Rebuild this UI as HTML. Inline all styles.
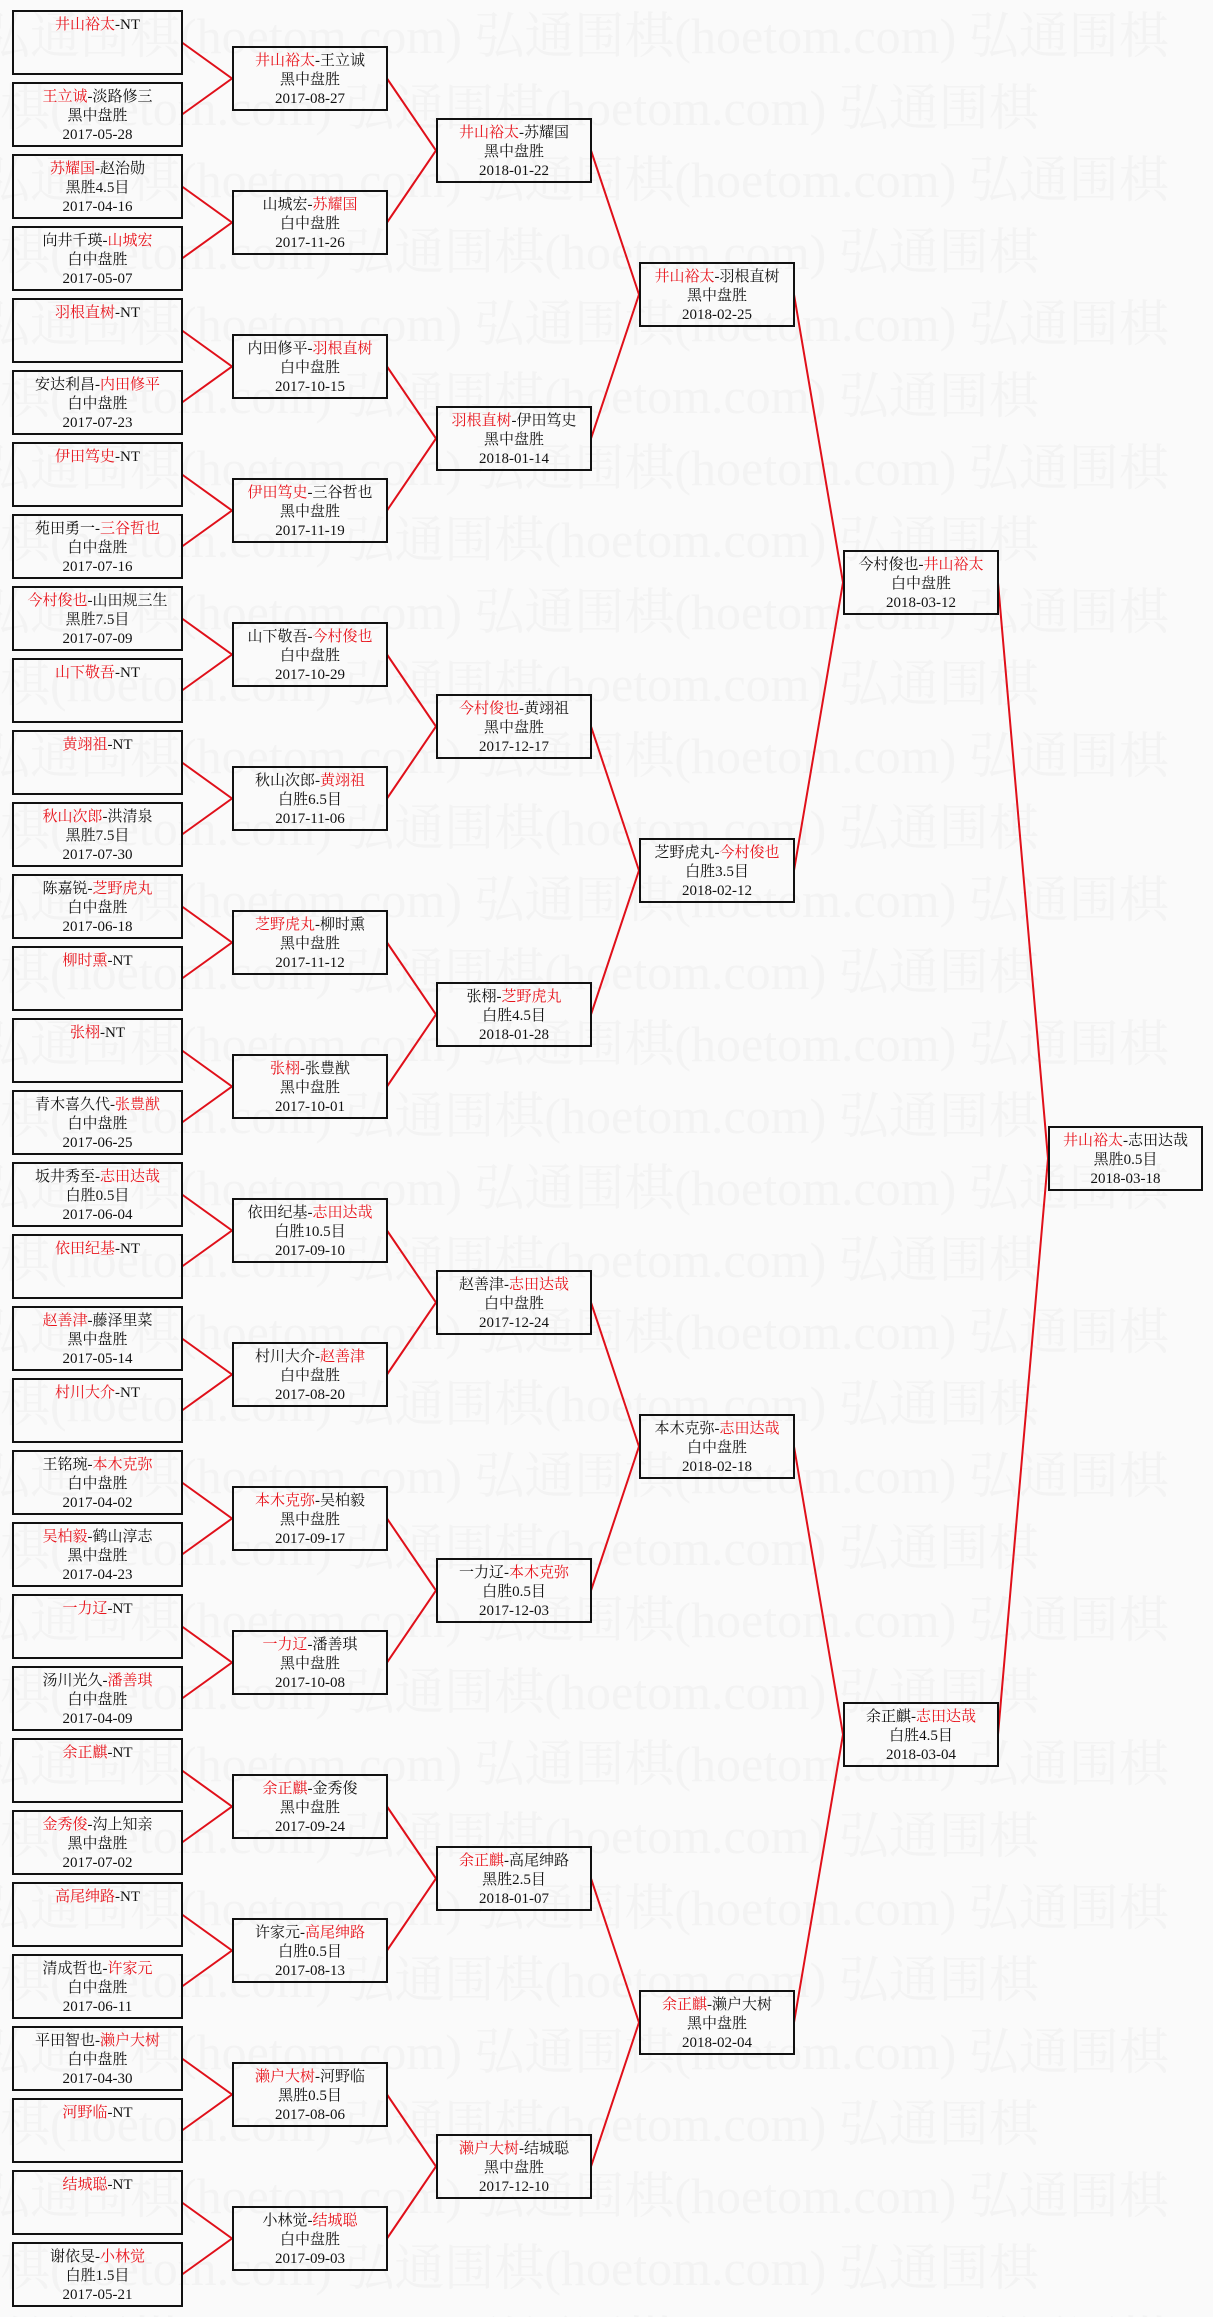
<!DOCTYPE html>
<html><head><meta charset="utf-8"><style>
html,body{margin:0;padding:0}
body{width:1213px;height:2317px;position:relative;overflow:hidden;background:#fafafa;font-family:"Liberation Serif","Noto Serif CJK SC",serif;}
.wm{position:absolute;left:0;top:0;width:1213px;height:2317px;overflow:hidden;color:#f3f3f3;font-size:50px;line-height:72px;white-space:nowrap;font-family:"Liberation Serif","Noto Serif CJK SC",serif}
.wm div{height:72px}
svg{position:absolute;left:0;top:0}
.b{position:absolute;box-sizing:border-box;height:65px;border:2px solid #111;text-align:center;font-size:15px;line-height:19px;padding-top:4px;color:#111;white-space:nowrap;overflow:hidden}
.c1{left:12px;width:171px}.c2{left:232px;width:156px}.c3{left:436px;width:156px}
.c4{left:639px;width:156px}.c5{left:843px;width:156px}.c6{left:1048px;width:155px}
.r{color:#e8141c}
</style></head><body>
<div class="wm">
<div style="margin-left:-20px">弘通围棋(hoetom.com) 弘通围棋(hoetom.com) 弘通围棋</div>
<div style="margin-left:-150px">弘通围棋(hoetom.com) 弘通围棋(hoetom.com) 弘通围棋</div>
<div style="margin-left:-20px">弘通围棋(hoetom.com) 弘通围棋(hoetom.com) 弘通围棋</div>
<div style="margin-left:-150px">弘通围棋(hoetom.com) 弘通围棋(hoetom.com) 弘通围棋</div>
<div style="margin-left:-20px">弘通围棋(hoetom.com) 弘通围棋(hoetom.com) 弘通围棋</div>
<div style="margin-left:-150px">弘通围棋(hoetom.com) 弘通围棋(hoetom.com) 弘通围棋</div>
<div style="margin-left:-20px">弘通围棋(hoetom.com) 弘通围棋(hoetom.com) 弘通围棋</div>
<div style="margin-left:-150px">弘通围棋(hoetom.com) 弘通围棋(hoetom.com) 弘通围棋</div>
<div style="margin-left:-20px">弘通围棋(hoetom.com) 弘通围棋(hoetom.com) 弘通围棋</div>
<div style="margin-left:-150px">弘通围棋(hoetom.com) 弘通围棋(hoetom.com) 弘通围棋</div>
<div style="margin-left:-20px">弘通围棋(hoetom.com) 弘通围棋(hoetom.com) 弘通围棋</div>
<div style="margin-left:-150px">弘通围棋(hoetom.com) 弘通围棋(hoetom.com) 弘通围棋</div>
<div style="margin-left:-20px">弘通围棋(hoetom.com) 弘通围棋(hoetom.com) 弘通围棋</div>
<div style="margin-left:-150px">弘通围棋(hoetom.com) 弘通围棋(hoetom.com) 弘通围棋</div>
<div style="margin-left:-20px">弘通围棋(hoetom.com) 弘通围棋(hoetom.com) 弘通围棋</div>
<div style="margin-left:-150px">弘通围棋(hoetom.com) 弘通围棋(hoetom.com) 弘通围棋</div>
<div style="margin-left:-20px">弘通围棋(hoetom.com) 弘通围棋(hoetom.com) 弘通围棋</div>
<div style="margin-left:-150px">弘通围棋(hoetom.com) 弘通围棋(hoetom.com) 弘通围棋</div>
<div style="margin-left:-20px">弘通围棋(hoetom.com) 弘通围棋(hoetom.com) 弘通围棋</div>
<div style="margin-left:-150px">弘通围棋(hoetom.com) 弘通围棋(hoetom.com) 弘通围棋</div>
<div style="margin-left:-20px">弘通围棋(hoetom.com) 弘通围棋(hoetom.com) 弘通围棋</div>
<div style="margin-left:-150px">弘通围棋(hoetom.com) 弘通围棋(hoetom.com) 弘通围棋</div>
<div style="margin-left:-20px">弘通围棋(hoetom.com) 弘通围棋(hoetom.com) 弘通围棋</div>
<div style="margin-left:-150px">弘通围棋(hoetom.com) 弘通围棋(hoetom.com) 弘通围棋</div>
<div style="margin-left:-20px">弘通围棋(hoetom.com) 弘通围棋(hoetom.com) 弘通围棋</div>
<div style="margin-left:-150px">弘通围棋(hoetom.com) 弘通围棋(hoetom.com) 弘通围棋</div>
<div style="margin-left:-20px">弘通围棋(hoetom.com) 弘通围棋(hoetom.com) 弘通围棋</div>
<div style="margin-left:-150px">弘通围棋(hoetom.com) 弘通围棋(hoetom.com) 弘通围棋</div>
<div style="margin-left:-20px">弘通围棋(hoetom.com) 弘通围棋(hoetom.com) 弘通围棋</div>
<div style="margin-left:-150px">弘通围棋(hoetom.com) 弘通围棋(hoetom.com) 弘通围棋</div>
<div style="margin-left:-20px">弘通围棋(hoetom.com) 弘通围棋(hoetom.com) 弘通围棋</div>
<div style="margin-left:-150px">弘通围棋(hoetom.com) 弘通围棋(hoetom.com) 弘通围棋</div>
<div style="margin-left:-20px">弘通围棋(hoetom.com) 弘通围棋(hoetom.com) 弘通围棋</div>
</div>
<svg width="1213" height="2317" viewBox="0 0 1213 2317">
<g fill="none" stroke="#e0101a" stroke-width="2">
<path d="M182,42.5L232,78.5L182,114.5"/><path d="M182,186.5L232,222.5L182,258.5"/>
<path d="M182,330.5L232,366.5L182,402.5"/><path d="M182,474.5L232,510.5L182,546.5"/>
<path d="M182,618.5L232,654.5L182,690.5"/><path d="M182,762.5L232,798.5L182,834.5"/>
<path d="M182,906.5L232,942.5L182,978.5"/><path d="M182,1050.5L232,1086.5L182,1122.5"/>
<path d="M182,1194.5L232,1230.5L182,1266.5"/><path d="M182,1338.5L232,1374.5L182,1410.5"/>
<path d="M182,1482.5L232,1518.5L182,1554.5"/><path d="M182,1626.5L232,1662.5L182,1698.5"/>
<path d="M182,1770.5L232,1806.5L182,1842.5"/><path d="M182,1914.5L232,1950.5L182,1986.5"/>
<path d="M182,2058.5L232,2094.5L182,2130.5"/><path d="M182,2202.5L232,2238.5L182,2274.5"/>
<path d="M387,78.5L436,150.5L387,222.5"/><path d="M387,366.5L436,438.5L387,510.5"/>
<path d="M387,654.5L436,726.5L387,798.5"/><path d="M387,942.5L436,1014.5L387,1086.5"/>
<path d="M387,1230.5L436,1302.5L387,1374.5"/><path d="M387,1518.5L436,1590.5L387,1662.5"/>
<path d="M387,1806.5L436,1878.5L387,1950.5"/><path d="M387,2094.5L436,2166.5L387,2238.5"/>
<path d="M591,150.5L639,294.5L591,438.5"/><path d="M591,726.5L639,870.5L591,1014.5"/>
<path d="M591,1302.5L639,1446.5L591,1590.5"/><path d="M591,1878.5L639,2022.5L591,2166.5"/>
<path d="M794,294.5L843,582.5L794,870.5"/><path d="M794,1446.5L843,1734.5L794,2022.5"/>
<path d="M998,582.5L1048,1158.5L998,1734.5"/>
</g></svg>

<div class="b c1" style="top:10px"><span class="r">井山裕太</span>-NT</div>
<div class="b c1" style="top:82px"><span class="r">王立诚</span>-淡路修三<br>黑中盘胜<br>2017-05-28</div>
<div class="b c1" style="top:154px"><span class="r">苏耀国</span>-赵治勋<br>黑胜4.5目<br>2017-04-16</div>
<div class="b c1" style="top:226px">向井千瑛-<span class="r">山城宏</span><br>白中盘胜<br>2017-05-07</div>
<div class="b c1" style="top:298px"><span class="r">羽根直树</span>-NT</div>
<div class="b c1" style="top:370px">安达利昌-<span class="r">内田修平</span><br>白中盘胜<br>2017-07-23</div>
<div class="b c1" style="top:442px"><span class="r">伊田笃史</span>-NT</div>
<div class="b c1" style="top:514px">苑田勇一-<span class="r">三谷哲也</span><br>白中盘胜<br>2017-07-16</div>
<div class="b c1" style="top:586px"><span class="r">今村俊也</span>-山田规三生<br>黑胜7.5目<br>2017-07-09</div>
<div class="b c1" style="top:658px"><span class="r">山下敬吾</span>-NT</div>
<div class="b c1" style="top:730px"><span class="r">黄翊祖</span>-NT</div>
<div class="b c1" style="top:802px"><span class="r">秋山次郎</span>-洪清泉<br>黑胜7.5目<br>2017-07-30</div>
<div class="b c1" style="top:874px">陈嘉锐-<span class="r">芝野虎丸</span><br>白中盘胜<br>2017-06-18</div>
<div class="b c1" style="top:946px"><span class="r">柳时熏</span>-NT</div>
<div class="b c1" style="top:1018px"><span class="r">张栩</span>-NT</div>
<div class="b c1" style="top:1090px">青木喜久代-<span class="r">张豊猷</span><br>白中盘胜<br>2017-06-25</div>
<div class="b c1" style="top:1162px">坂井秀至-<span class="r">志田达哉</span><br>白胜0.5目<br>2017-06-04</div>
<div class="b c1" style="top:1234px"><span class="r">依田纪基</span>-NT</div>
<div class="b c1" style="top:1306px"><span class="r">赵善津</span>-藤泽里菜<br>黑中盘胜<br>2017-05-14</div>
<div class="b c1" style="top:1378px"><span class="r">村川大介</span>-NT</div>
<div class="b c1" style="top:1450px">王铭琬-<span class="r">本木克弥</span><br>白中盘胜<br>2017-04-02</div>
<div class="b c1" style="top:1522px"><span class="r">吴柏毅</span>-鹤山淳志<br>黑中盘胜<br>2017-04-23</div>
<div class="b c1" style="top:1594px"><span class="r">一力辽</span>-NT</div>
<div class="b c1" style="top:1666px">汤川光久-<span class="r">潘善琪</span><br>白中盘胜<br>2017-04-09</div>
<div class="b c1" style="top:1738px"><span class="r">余正麒</span>-NT</div>
<div class="b c1" style="top:1810px"><span class="r">金秀俊</span>-沟上知亲<br>黑中盘胜<br>2017-07-02</div>
<div class="b c1" style="top:1882px"><span class="r">高尾绅路</span>-NT</div>
<div class="b c1" style="top:1954px">清成哲也-<span class="r">许家元</span><br>白中盘胜<br>2017-06-11</div>
<div class="b c1" style="top:2026px">平田智也-<span class="r">濑户大树</span><br>白中盘胜<br>2017-04-30</div>
<div class="b c1" style="top:2098px"><span class="r">河野临</span>-NT</div>
<div class="b c1" style="top:2170px"><span class="r">结城聪</span>-NT</div>
<div class="b c1" style="top:2242px">谢依旻-<span class="r">小林觉</span><br>白胜1.5目<br>2017-05-21</div>

<div class="b c2" style="top:46px"><span class="r">井山裕太</span>-王立诚<br>黑中盘胜<br>2017-08-27</div>
<div class="b c2" style="top:190px">山城宏-<span class="r">苏耀国</span><br>白中盘胜<br>2017-11-26</div>
<div class="b c2" style="top:334px">内田修平-<span class="r">羽根直树</span><br>白中盘胜<br>2017-10-15</div>
<div class="b c2" style="top:478px"><span class="r">伊田笃史</span>-三谷哲也<br>黑中盘胜<br>2017-11-19</div>
<div class="b c2" style="top:622px">山下敬吾-<span class="r">今村俊也</span><br>白中盘胜<br>2017-10-29</div>
<div class="b c2" style="top:766px">秋山次郎-<span class="r">黄翊祖</span><br>白胜6.5目<br>2017-11-06</div>
<div class="b c2" style="top:910px"><span class="r">芝野虎丸</span>-柳时熏<br>黑中盘胜<br>2017-11-12</div>
<div class="b c2" style="top:1054px"><span class="r">张栩</span>-张豊猷<br>黑中盘胜<br>2017-10-01</div>
<div class="b c2" style="top:1198px">依田纪基-<span class="r">志田达哉</span><br>白胜10.5目<br>2017-09-10</div>
<div class="b c2" style="top:1342px">村川大介-<span class="r">赵善津</span><br>白中盘胜<br>2017-08-20</div>
<div class="b c2" style="top:1486px"><span class="r">本木克弥</span>-吴柏毅<br>黑中盘胜<br>2017-09-17</div>
<div class="b c2" style="top:1630px"><span class="r">一力辽</span>-潘善琪<br>黑中盘胜<br>2017-10-08</div>
<div class="b c2" style="top:1774px"><span class="r">余正麒</span>-金秀俊<br>黑中盘胜<br>2017-09-24</div>
<div class="b c2" style="top:1918px">许家元-<span class="r">高尾绅路</span><br>白胜0.5目<br>2017-08-13</div>
<div class="b c2" style="top:2062px"><span class="r">濑户大树</span>-河野临<br>黑胜0.5目<br>2017-08-06</div>
<div class="b c2" style="top:2206px">小林觉-<span class="r">结城聪</span><br>白中盘胜<br>2017-09-03</div>

<div class="b c3" style="top:118px"><span class="r">井山裕太</span>-苏耀国<br>黑中盘胜<br>2018-01-22</div>
<div class="b c3" style="top:406px"><span class="r">羽根直树</span>-伊田笃史<br>黑中盘胜<br>2018-01-14</div>
<div class="b c3" style="top:694px"><span class="r">今村俊也</span>-黄翊祖<br>黑中盘胜<br>2017-12-17</div>
<div class="b c3" style="top:982px">张栩-<span class="r">芝野虎丸</span><br>白胜4.5目<br>2018-01-28</div>
<div class="b c3" style="top:1270px">赵善津-<span class="r">志田达哉</span><br>白中盘胜<br>2017-12-24</div>
<div class="b c3" style="top:1558px">一力辽-<span class="r">本木克弥</span><br>白胜0.5目<br>2017-12-03</div>
<div class="b c3" style="top:1846px"><span class="r">余正麒</span>-高尾绅路<br>黑胜2.5目<br>2018-01-07</div>
<div class="b c3" style="top:2134px"><span class="r">濑户大树</span>-结城聪<br>黑中盘胜<br>2017-12-10</div>

<div class="b c4" style="top:262px"><span class="r">井山裕太</span>-羽根直树<br>黑中盘胜<br>2018-02-25</div>
<div class="b c4" style="top:838px">芝野虎丸-<span class="r">今村俊也</span><br>白胜3.5目<br>2018-02-12</div>
<div class="b c4" style="top:1414px">本木克弥-<span class="r">志田达哉</span><br>白中盘胜<br>2018-02-18</div>
<div class="b c4" style="top:1990px"><span class="r">余正麒</span>-濑户大树<br>黑中盘胜<br>2018-02-04</div>

<div class="b c5" style="top:550px">今村俊也-<span class="r">井山裕太</span><br>白中盘胜<br>2018-03-12</div>
<div class="b c5" style="top:1702px">余正麒-<span class="r">志田达哉</span><br>白胜4.5目<br>2018-03-04</div>

<div class="b c6" style="top:1126px"><span class="r">井山裕太</span>-志田达哉<br>黑胜0.5目<br>2018-03-18</div>
</body></html>
